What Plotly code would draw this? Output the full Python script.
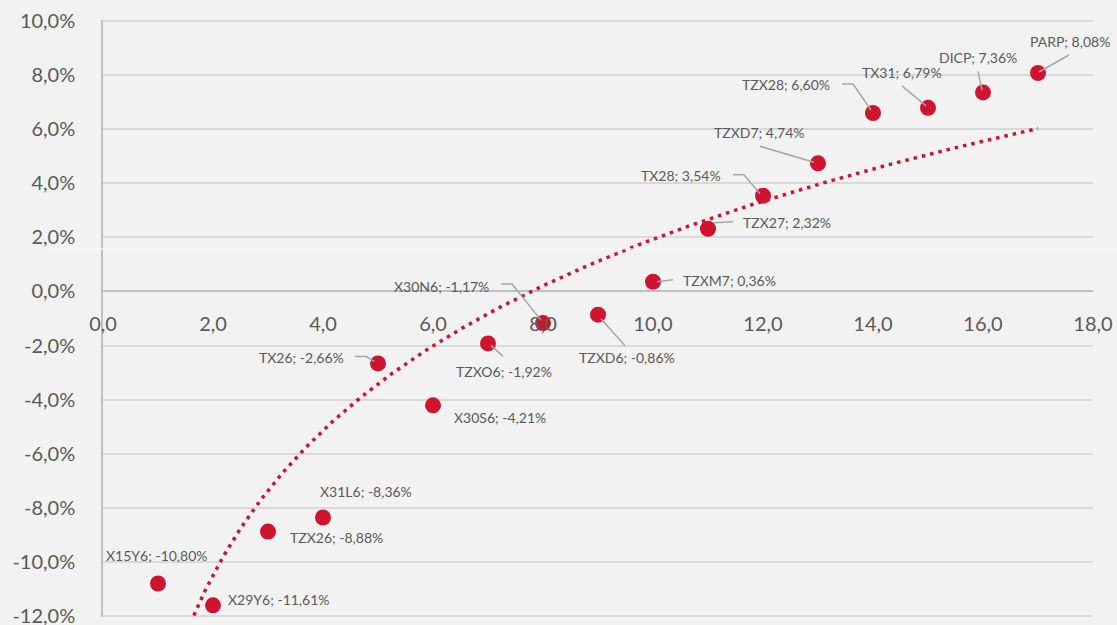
import numpy as np
import plotly.graph_objects as go

# ---- data ----
names = ["X15Y6", "X29Y6", "TZX26", "X31L6", "TX26", "X30S6", "TZXO6", "X30N6",
         "TZXD6", "TZXM7", "TZX27", "TX28", "TZXD7", "TZX28", "TX31", "DICP", "PARP"]
x_vals = [1, 2, 3, 4, 5, 6, 7, 8, 9, 10, 11, 12, 13, 14, 15, 16, 17]
y_vals = [-10.80, -11.61, -8.88, -8.36, -2.66, -4.21, -1.92, -1.17,
          -0.86, 0.36, 2.32, 3.54, 4.74, 6.60, 6.79, 7.36, 8.08]
x_ticks = [0, 2, 4, 6, 8, 10, 12, 14, 16, 18]
y_ticks = [-12, -10, -8, -6, -4, -2, 0, 2, 4, 6, 8, 10]

# ---- label placement (screen px offsets from the point: dx, dy down-positive) ----
label_pos = [
    ("center", -1, -28, []),
    ("left", 13, -6, []),
    ("left", 20, 6, []),
    ("left", -5, -26, []),
    ("right", -32, -6, [(-23, -7), (-12, -7), (-4, -2)]),
    ("left", 19, 12, []),
    ("center", 16, 28, [(3, 2), (15, 13)]),
    ("right", -52, -37, [(-42, -39), (-31, -39), (-2, -3)]),
    ("center", 29, 43, [(3, 4), (27, 31)]),
    ("left", 28, -1, [(4, 0), (20, -2)]),
    ("left", 33, -6, [(6, -6), (25, -7)]),
    ("right", -40, -20, [(-30, -21), (-19, -21), (-3, -2)]),
    ("center", -59, -31, [(-58, -17), (-4, -1)]),
    ("right", -41, -29, [(-31, -29), (-20, -29), (-2, -3)]),
    ("center", -26, -35, [(-26, -22), (-2, -2)]),
    ("center", -5, -35, [(-5, -21), (-1, -2)]),
    ("center", 32, -31, [(1, -1), (31, -18)]),
]

RED = "#cf1430"
TXT = "#595959"
FONT = "Lato"

# logarithmic trendline (least squares on ln x)
xa = np.array(x_vals, dtype=float)
ya = np.array(y_vals, dtype=float)
c, b = np.polyfit(np.log(xa), ya, 1)
xt = np.linspace(min(x_vals), max(x_vals), 400)
yt = c * np.log(xt) + b

fig = go.Figure()
fig.add_trace(go.Scatter(x=xt, y=yt, mode="lines",
                         line=dict(color=RED, width=3.5, dash="3.5px,5px"),
                         hoverinfo="skip", showlegend=False))
fig.add_trace(go.Scatter(x=x_vals, y=y_vals, mode="markers",
                         marker=dict(color=RED, size=16, line=dict(width=0)),
                         showlegend=False, cliponaxis=False))

def fmt(v):
    return f"{v:.2f}%".replace(".", ",")

annotations = []
shapes = []
for n, xv, yv, (anc, dx, dy, leader) in zip(names, x_vals, y_vals, label_pos):
    annotations.append(dict(x=xv, y=yv, xref="x", yref="y", text=f"{n}; {fmt(yv)}",
                            showarrow=False, xanchor=anc, yanchor="middle",
                            xshift=dx, yshift=-dy,
                            font=dict(family=FONT, size=14, color=TXT)))
    if leader:
        path = "M" + " L".join(f"{px},{-py}" for px, py in leader)
        shapes.append(dict(type="path", xref="x", yref="y",
                           xsizemode="pixel", ysizemode="pixel",
                           xanchor=xv, yanchor=yv, path=path,
                           line=dict(color="#a6a6a6", width=1.5)))

# thin white streak seen across the reference image
shapes.append(dict(type="line", xref="paper", yref="paper",
                   x0=-0.056, x1=1.03, y0=0.6164, y1=0.6164,
                   line=dict(color="#ffffff", width=1.2), layer="above"))

ymin, ymax = -12, 10
eps = 0.04
fig.update_layout(
    width=1117, height=625,
    margin=dict(l=103, r=24, t=20, b=8),
    paper_bgcolor="#f2f2f2", plot_bgcolor="#f2f2f2",
    separators=",.",
    font=dict(family=FONT, color=TXT),
    xaxis=dict(range=[0, 18], tickvals=x_ticks,
               ticktext=[f"{t:.1f}".replace(".", ",") for t in x_ticks],
               showgrid=False, zeroline=False, showline=False,
               anchor="free", position=(0 - ymin) / (ymax - ymin),
               ticks="", ticklabelstandoff=19, automargin=False,
               tickfont=dict(family=FONT, size=20, color=TXT)),
    yaxis=dict(range=[ymin - eps, ymax + eps], tickvals=y_ticks,
               ticktext=[f"{t:.1f}%".replace(".", ",") for t in y_ticks],
               showgrid=True, gridcolor="#d9d9d9", gridwidth=1.5,
               zeroline=True, zerolinecolor="#bfbfbf", zerolinewidth=1.5,
               showline=True, linecolor="#bfbfbf", linewidth=1.5,
               ticks="", ticklabelstandoff=22, ticklabeloverflow="allow",
               automargin=False,
               tickfont=dict(family=FONT, size=20, color=TXT)),
    annotations=annotations,
    shapes=shapes,
)
fig.write_html("out.html", config={"displayModeBar": False},
               post_script="document.body.style.margin='0';document.body.style.background='#f2f2f2';")
